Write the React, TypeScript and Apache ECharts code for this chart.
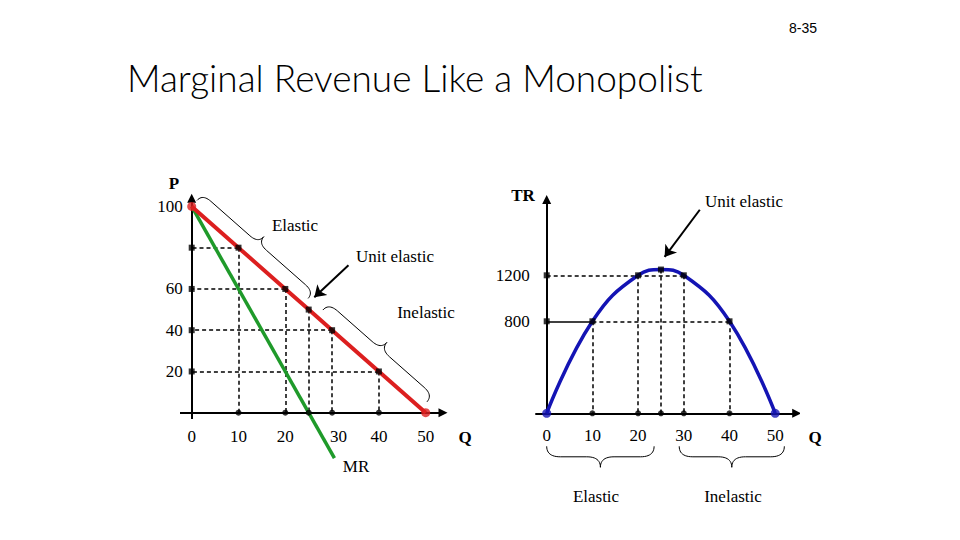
import React, { useEffect, useRef } from 'react';
import * as echarts from 'echarts';

// ---- data ----
const demandQ = [0, 10, 20, 25, 30, 40, 50];
const demandP = [100, 80, 60, 50, 40, 20, 0];
const mrQ = [0, 30.5];
const mrP = [100, -22];
const trQ = [0, 10, 20, 25, 30, 40, 50];
const trValues = [0, 800, 1200, 1250, 1200, 800, 0];
const qTickLabels = [0, 10, 20, 30, 40, 50];
const pTickLabels = [20, 40, 60, 100];
const trTickLabels = [800, 1200];
const leftGuideQ = [10, 20, 25, 30, 40];
const leftGuideP = [80, 60, 50, 40, 20];
const leftHorizontalP = [80, 60, 40, 20];
const rightGuideQ = [10, 20, 25, 30, 40];
const rightGuideTR = [800, 1200, 1250, 1200, 800];
const rightHorizontalTR = [800, 1200];

const SERIF = '"Liberation Serif", "Times New Roman", serif';
const RED = '#dc1f1f';
const GREEN = '#1f9a2a';
const BLUE = '#1414b4';

// grid layout (pixels)
const G0 = { left: 168.3, top: 185.8, width: 280.8, height: 288.8 };
const G1 = { left: 523.85, top: 183.3, width: 274.2, height: 276 };
const ZERO0 = { x: 191.7, y: 412.7 };
const ZERO1 = { x: 546.7, y: 413.3 };

function onDemand(q: number): [number, number] {
  for (let i = 0; i < demandQ.length - 1; i++) {
    if (q >= demandQ[i] && q <= demandQ[i + 1]) {
      const t = (q - demandQ[i]) / (demandQ[i + 1] - demandQ[i]);
      return [q, demandP[i] + t * (demandP[i + 1] - demandP[i])];
    }
  }
  return [q, demandP[demandP.length - 1]];
}

function bracePts(A: number[], B: number[], nSign: number, base: number, depth: number) {
  const dx = B[0] - A[0], dy = B[1] - A[1];
  const L = Math.hypot(dx, dy);
  const ux = dx / L, uy = dy / L;
  let nx = uy, ny = -ux;
  if (nSign < 0) { nx = -nx; ny = -ny; }
  const h = depth / 2;
  const a = Math.min(h * 1.3, L * 0.15);
  const m = L / 2;
  const segs = [
    [[0, 0], [0, h], [a, h]],
    [[m - a, h], [m, h], [m, depth]],
    [[m, depth], [m, h], [m + a, h]],
    [[L - a, h], [L, h], [L, 0]],
  ];
  const local: number[][] = [];
  segs.forEach(([p0, c, p1]) => {
    for (let i = 0; i <= 12; i++) {
      const t = i / 12;
      const s = (1 - t) * (1 - t) * p0[0] + 2 * (1 - t) * t * c[0] + t * t * p1[0];
      const v = (1 - t) * (1 - t) * p0[1] + 2 * (1 - t) * t * c[1] + t * t * p1[1];
      local.push([s, v]);
    }
  });
  return local.map(([s, v]) => [A[0] + nx * base + ux * s + nx * v, A[1] + ny * base + uy * s + ny * v]);
}

function labelAxis(list: number[], margin: number, shifted: number[] = []) {
  return {
    formatter: (v: number) => {
      if (!list.includes(v)) return '';
      return shifted.includes(v) ? `{r|${v}}` : String(v);
    },
    margin,
    fontFamily: SERIF,
    fontSize: 17,
    color: '#000',
    rich: {
      r: { padding: [0, 0, 0, 13], fontFamily: SERIF, fontSize: 17, color: '#000' },
    },
  };
}

function buildOption() {
  const pairs = (qs: number[], vs: number[]) => qs.map((q, i) => [q, vs[i]]);
  const leftGuides: number[][][] = [];
  leftGuideQ.forEach((q, i) => {
    leftGuides.push([[q, leftGuideP[i]], [q, 0]]);
    if (leftHorizontalP.includes(leftGuideP[i])) leftGuides.push([[q, leftGuideP[i]], [0, leftGuideP[i]]]);
  });
  const rightGuides: number[][][] = [];
  rightGuideQ.forEach((q, i) => rightGuides.push([[q, rightGuideTR[i]], [q, 0]]));
  const rightSolid: number[][][] = [];
  rightHorizontalTR.forEach((lv) => {
    const qs = rightGuideQ.filter((_, i) => rightGuideTR[i] === lv);
    const qMax = Math.max(...qs);
    const qMin = Math.min(...qs);
    if (lv === 800) {
      rightSolid.push([[0, lv], [qMin, lv]]);
      rightGuides.push([[qMin, lv], [qMax, lv]]);
    } else {
      rightGuides.push([[0, lv], [qMax, lv]]);
    }
  });

  const axisCommon = {
    type: 'value' as const,
    axisTick: { show: false },
    splitLine: { show: false },
    axisLine: { show: false, onZero: false },
  };

  return {
    animation: false,
    backgroundColor: '#ffffff',
    grid: [G0, G1],
    xAxis: [
      { ...axisCommon, gridIndex: 0, position: 'bottom', offset: ZERO0.y - (G0.top + G0.height), min: -5, max: 55, interval: 5, axisLabel: labelAxis(qTickLabels, 15, [30]) },
      { ...axisCommon, gridIndex: 1, position: 'bottom', offset: ZERO1.y - (G1.top + G1.height), min: -5, max: 55, interval: 5, axisLabel: labelAxis(qTickLabels, 14) },
    ],
    yAxis: [
      { ...axisCommon, gridIndex: 0, position: 'left', offset: G0.left - ZERO0.x, min: -30, max: 110, interval: 10, axisLabel: labelAxis(pTickLabels, 9) },
      { ...axisCommon, gridIndex: 1, position: 'left', offset: G1.left - ZERO1.x, min: -400, max: 2000, interval: 400, axisLabel: labelAxis(trTickLabels, 17) },
    ],
    series: [
      {
        type: 'lines', coordinateSystem: 'cartesian2d', xAxisIndex: 0, yAxisIndex: 0, silent: true, z: 1,
        lineStyle: { color: '#000', width: 1.5, type: [4, 3], opacity: 1 },
        data: leftGuides.map((c) => ({ coords: c })),
      },
      {
        type: 'lines', coordinateSystem: 'cartesian2d', xAxisIndex: 1, yAxisIndex: 1, silent: true, z: 1,
        lineStyle: { color: '#000', width: 1.5, type: [4, 3], opacity: 1 },
        data: rightGuides.map((c) => ({ coords: c })),
      },
      {
        type: 'lines', coordinateSystem: 'cartesian2d', xAxisIndex: 1, yAxisIndex: 1, silent: true, z: 1,
        lineStyle: { color: '#000', width: 1.5, opacity: 1 },
        data: rightSolid.map((c) => ({ coords: c })),
      },
      {
        type: 'lines', coordinateSystem: 'cartesian2d', xAxisIndex: 0, yAxisIndex: 0, silent: true, z: 2,
        symbol: ['none', 'triangle'], symbolSize: 9,
        lineStyle: { color: '#000', width: 2, opacity: 1 },
        data: [{ coords: [[-2.5, 0], [53.7, 0]] }, { coords: [[0, -3], [0, 104]] }],
      },
      {
        type: 'lines', coordinateSystem: 'cartesian2d', xAxisIndex: 1, yAxisIndex: 1, silent: true, z: 2,
        symbol: ['none', 'triangle'], symbolSize: 9,
        lineStyle: { color: '#000', width: 2, opacity: 1 },
        data: [{ coords: [[-2.5, 0], [54.7, 0]] }, { coords: [[0, 0], [0, 1860]] }],
      },
      {
        name: 'MR', type: 'line', xAxisIndex: 0, yAxisIndex: 0, z: 3, symbol: 'none', clip: false,
        lineStyle: { color: GREEN, width: 3.5 }, data: pairs(mrQ, mrP),
      },
      {
        name: 'Demand', type: 'line', xAxisIndex: 0, yAxisIndex: 0, z: 4, symbol: 'none', clip: false,
        lineStyle: { color: RED, width: 4 }, data: pairs(demandQ, demandP),
      },
      {
        name: 'TR', type: 'line', xAxisIndex: 1, yAxisIndex: 1, z: 4, symbol: 'none', smooth: 0.45, clip: false,
        lineStyle: { color: BLUE, width: 3.5 }, data: pairs(trQ, trValues),
      },
      {
        type: 'scatter', xAxisIndex: 0, yAxisIndex: 0, z: 5, symbol: 'rect', symbolSize: 6, silent: true,
        itemStyle: { color: '#000' },
        data: [...pairs(leftGuideQ, leftGuideP), ...leftHorizontalP.map((p) => [0, p])],
      },
      {
        type: 'scatter', xAxisIndex: 0, yAxisIndex: 0, z: 5, symbol: 'circle', symbolSize: 6, silent: true,
        itemStyle: { color: '#000' },
        data: leftGuideQ.map((q) => [q, 0]),
      },
      {
        type: 'scatter', xAxisIndex: 1, yAxisIndex: 1, z: 5, symbol: 'rect', symbolSize: 6, silent: true,
        itemStyle: { color: '#000' },
        data: [...pairs(rightGuideQ, rightGuideTR), ...rightHorizontalTR.map((v) => [0, v])],
      },
      {
        type: 'scatter', xAxisIndex: 1, yAxisIndex: 1, z: 5, symbol: 'circle', symbolSize: 6, silent: true,
        itemStyle: { color: '#000' },
        data: rightGuideQ.map((q) => [q, 0]),
      },
      {
        type: 'scatter', xAxisIndex: 0, yAxisIndex: 0, z: 6, symbol: 'circle', symbolSize: 9, silent: true,
        itemStyle: { color: RED },
        data: [[demandQ[0], demandP[0]], [demandQ[demandQ.length - 1], demandP[demandP.length - 1]]],
      },
      {
        type: 'scatter', xAxisIndex: 1, yAxisIndex: 1, z: 6, symbol: 'circle', symbolSize: 9, silent: true,
        itemStyle: { color: BLUE },
        data: [[trQ[0], trValues[0]], [trQ[trQ.length - 1], trValues[trValues.length - 1]]],
      },
      {
        type: 'lines', coordinateSystem: 'cartesian2d', xAxisIndex: 0, yAxisIndex: 0, silent: true, z: 6,
        symbol: ['none', 'arrow'], symbolSize: 11,
        lineStyle: { color: '#000', width: 2, opacity: 1 },
        data: [{ coords: [[33.5, 71.5], [26.2, 56]] }],
      },
      {
        type: 'lines', coordinateSystem: 'cartesian2d', xAxisIndex: 1, yAxisIndex: 1, silent: true, z: 6,
        symbol: ['none', 'arrow'], symbolSize: 11,
        lineStyle: { color: '#000', width: 2, opacity: 1 },
        data: [{ coords: [[33.5, 1770], [25.8, 1360]] }],
      },
    ],
  };
}

function txt(text: string, x: number, y: number, opts: any = {}) {
  return {
    type: 'text', x, y, silent: true, z: 10,
    style: {
      text,
      fontFamily: opts.fontFamily || SERIF,
      fontSize: opts.fontSize || 17,
      fontWeight: opts.fontWeight || 'normal',
      fill: '#000',
      align: opts.align || 'center',
      verticalAlign: 'middle',
    },
  };
}

export default function App() {
  const ref = useRef<HTMLDivElement>(null);
  useEffect(() => {
    const chart = echarts.init(ref.current!, null, { renderer: 'svg' });
    chart.setOption(buildOption() as any);

    const p0 = (c: number[]) => chart.convertToPixel({ gridIndex: 0 }, c) as number[];
    const p1 = (c: number[]) => chart.convertToPixel({ gridIndex: 1 }, c) as number[];
    const down = (pt: number[], d: number) => [pt[0], pt[1] + d];

    const braces = [
      bracePts(p0(onDemand(0)), p0(onDemand(23.75)), 1, 8, 17),
      bracePts(p0(onDemand(26.75)), p0(onDemand(49)), 1, 9, 18),
      bracePts(down(p1([0, 0]), 33), down(p1([23.5, 0]), 33), -1, 0, 21),
      bracePts(down(p1([29, 0]), 33), down(p1([52, 0]), 33), -1, 0, 21),
    ].map((pts) => ({
      type: 'polyline', silent: true, z: 9,
      shape: { points: pts },
      style: { stroke: '#000', lineWidth: 1, fill: 'none' },
    }));

    const texts = [
      txt('8-35', 789, 28, { fontFamily: '"Liberation Sans", Arial, sans-serif', fontSize: 14, align: 'left' }),
      txt('Marginal Revenue Like a Monopolist', 127, 77, { fontFamily: 'Lato, "Open Sans", sans-serif', fontSize: 37, fontWeight: 300, align: 'left' }),
      txt('P', 174, 183, { fontWeight: 'bold' }),
      txt('Elastic', 295, 225),
      txt('Unit elastic', 395, 256),
      txt('Inelastic', 426, 312),
      txt('Q', 465, 437, { fontWeight: 'bold' }),
      txt('MR', 356, 466),
      txt('TR', 523, 195, { fontWeight: 'bold' }),
      txt('Unit elastic', 744, 201),
      txt('Q', 815, 437, { fontWeight: 'bold' }),
      txt('Elastic', 596, 496),
      txt('Inelastic', 733, 496),
    ];

    chart.setOption({ graphic: [...braces, ...texts] } as any);
    return () => chart.dispose();
  }, []);
  return (
    <div
      ref={ref}
      style={{ position: 'absolute', left: 0, top: 0, width: 960, height: 540, background: '#fff' }}
    />
  );
}
